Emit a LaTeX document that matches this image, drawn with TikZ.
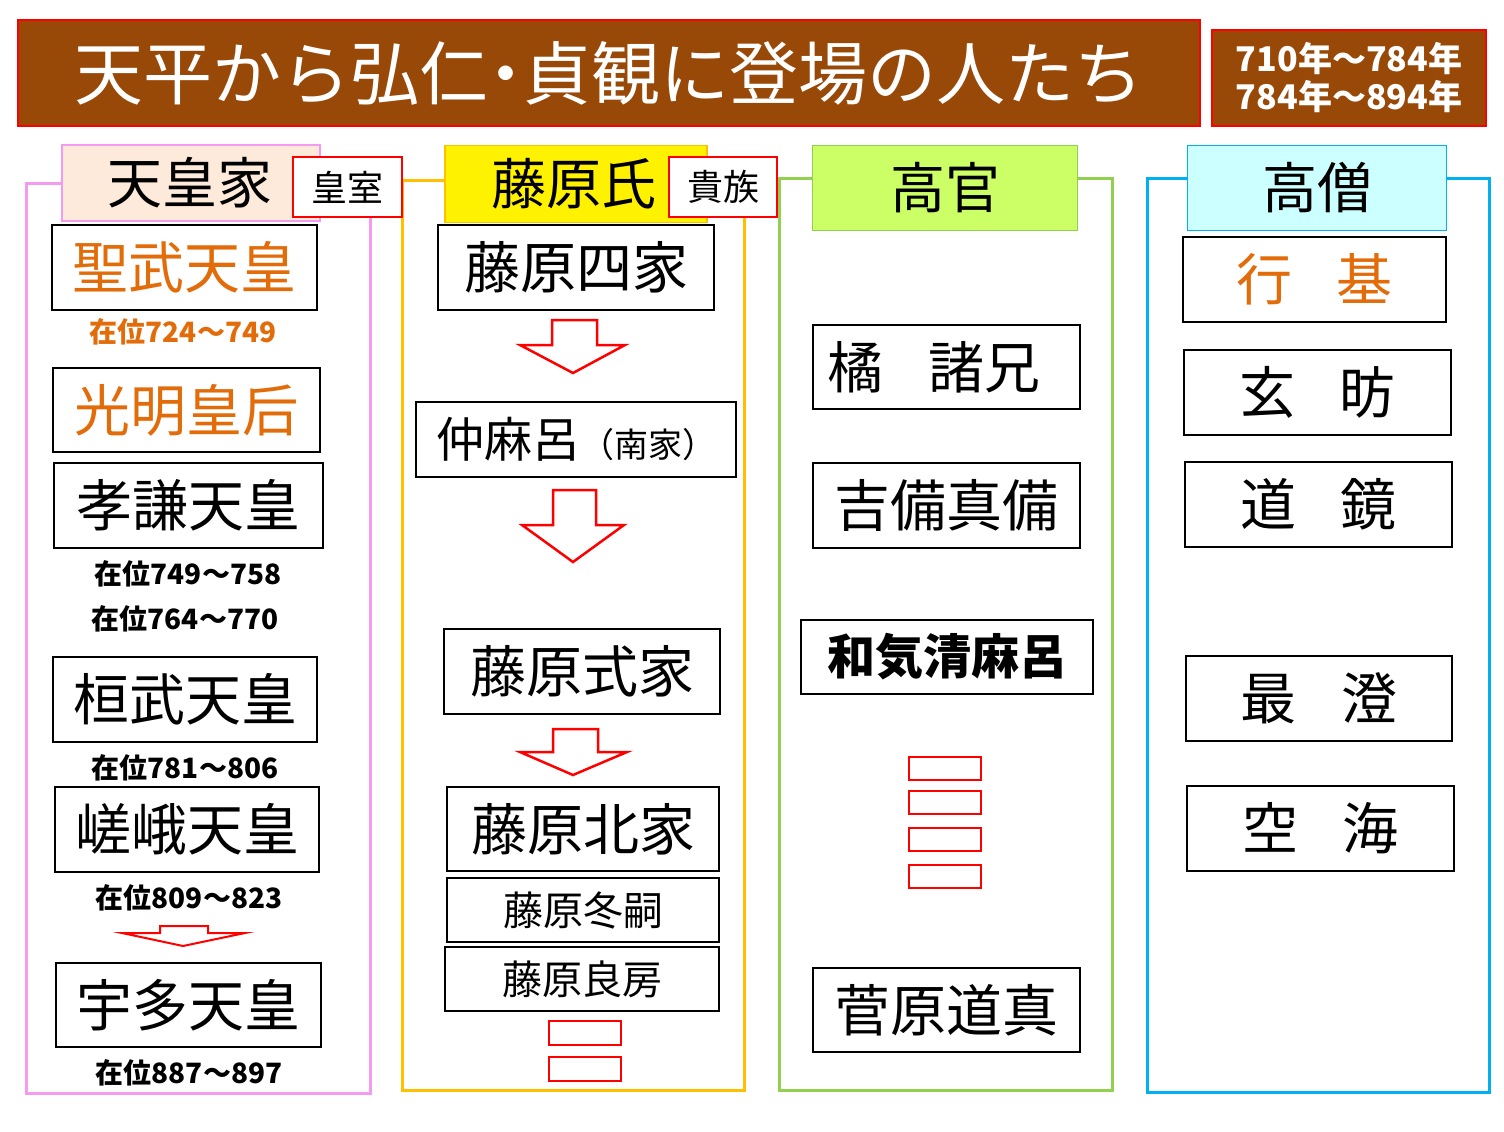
\documentclass[tikz,border=0pt]{standalone}
\usepackage{fontspec}
\setmainfont{Noto Sans CJK JP}
\begin{document}
\begin{tikzpicture}[x=1pt,y=-1pt,
  bx/.style={draw=black,line width=2pt,fill=white},
  rb/.style={draw=red,line width=2pt,fill=white},
  rr/.style={draw=red,line width=2.5pt},
  big/.style={font=\fontsize{56}{56}\selectfont},
  yr/.style={font=\fontsize{28}{28}\selectfont\bfseries},
  ttl/.style={font=\fontsize{55}{55}\selectfont},
  col/.style={line width=3pt}]
\useasboundingbox (0,0) rectangle (1504,1132);
\definecolor{brn}{HTML}{984807}
\definecolor{org}{HTML}{E36C0A}
\definecolor{pnk}{HTML}{F49AF0}
\definecolor{peach}{HTML}{FDEADA}
\definecolor{ylw}{HTML}{FFC000}
\definecolor{grn}{HTML}{92D050}
\definecolor{lgrn}{HTML}{CCFF66}
\definecolor{blu}{HTML}{00B0F0}
\definecolor{lcy}{HTML}{CCFFFF}
% title
\node[draw=red,line width=1.5pt,fill=brn,text=white,minimum width=1182,minimum height=106,font=\fontsize{69}{69}\selectfont,inner sep=0] (title) at (609,73) {天平から弘仁\hspace{-0.25em}・\hspace{-0.25em}貞観に登場の人たち};
\node[draw=red,line width=1.5pt,fill=brn,text=white,minimum width=274,minimum height=96,align=center,font=\fontsize{34}{38}\selectfont\bfseries] (years) at (1349,78) {710年～784年\\784年～894年};
% columns
\draw[col,pnk] (62,183) -- (26,183) -- (26,1093) -- (370,1093) -- (370,217);
\draw[col,ylw] (445,180) -- (402,180) -- (402,1090) -- (744,1090) -- (744,217);
\draw[col,grn] (813,178) -- (779,178) -- (779,1090) -- (1112,1090) -- (1112,178) -- (1078,178);
\draw[col,blu] (1188,178) -- (1147,178) -- (1147,1092) -- (1489,1092) -- (1489,178) -- (1447,178);
% headers
\node[draw=pnk,line width=1.5pt,fill=peach,minimum width=258,minimum height=76,ttl,inner sep=0] (h1) at (191,183) {\hspace*{-2pt}天皇家};
\node[rb,minimum width=109,minimum height=60,font=\fontsize{36}{36}\selectfont,inner sep=0] (s1) at (347,187) {皇室};
\node[draw=ylw,line width=1.5pt,fill=yellow,minimum width=262,minimum height=77,ttl,inner sep=0] (h2) at (576,184) {\hspace*{-4pt}藤原氏};
\node[rb,minimum width=108,minimum height=60,font=\fontsize{36}{36}\selectfont,inner sep=0] (s2) at (723,187) {貴族};
\node[draw=grn,line width=1.5pt,fill=lgrn,minimum width=265,minimum height=85,ttl,inner sep=0] (h3) at (945,188) {高官};
\node[draw=blu,line width=1.5pt,fill=lcy,minimum width=259,minimum height=85,ttl,inner sep=0] (h4) at (1317,188) {高僧};
% column 1
\node[bx,minimum width=265,minimum height=85,big,text=org,inner sep=0] (a1) at (184.5,267.5) {聖武天皇};
\node[yr,text=org] (y1) at (183,332) {在位724～749};
\node[bx,minimum width=267,minimum height=84,big,text=org,inner sep=0] (a2) at (186.5,410) {光明皇后};
\node[bx,minimum width=269,minimum height=85,big,inner sep=0] (a3) at (188.5,505.5) {孝謙天皇};
\node[yr] (y2) at (188,574) {在位749～758};
\node[yr] (y3) at (185,619) {在位764～770};
\node[bx,minimum width=264,minimum height=85,big,inner sep=0] (a4) at (185,699.5) {桓武天皇};
\node[yr] (y4) at (185,768) {在位781～806};
\node[bx,minimum width=264,minimum height=85,big,inner sep=0] (a5) at (187,829.5) {嵯峨天皇};
\node[yr] (y5) at (189,898) {在位809～823};
\node[bx,minimum width=265,minimum height=84,big,inner sep=0] (a6) at (188.5,1005) {宇多天皇};
\node[yr] (y6) at (189,1073) {在位887～897};
\draw[red,line width=2pt,fill=white] (160,926) -- (208,926) -- (208,933) -- (245,933) -- (183,946) -- (122,933) -- (160,933) -- cycle;
% column 2
\node[bx,minimum width=276,minimum height=85,big,inner sep=0] (b1) at (576,267.5) {藤原四家};
\node[bx,minimum width=320,minimum height=75,inner sep=0] (b2) at (576,439.5) {\fontsize{48}{48}\selectfont 仲麻呂\fontsize{34}{34}\selectfont （南家）};
\node[bx,minimum width=276,minimum height=85,big,inner sep=0] (b3) at (582,671.5) {藤原式家};
\node[bx,minimum width=272,minimum height=84,big,inner sep=0] (b4) at (583,829) {藤原北家};
\node[bx,minimum width=272,minimum height=64,font=\fontsize{40}{40}\selectfont,inner sep=0] (b5) at (583,910) {藤原冬嗣};
\node[bx,minimum width=274,minimum height=64,font=\fontsize{40}{40}\selectfont,inner sep=0] (b6) at (582,979) {藤原良房};
\draw[red,line width=2.5pt,fill=white] (552,320) -- (597,320) -- (597,345) -- (625,345) -- (573,373) -- (520,345) -- (552,345) -- cycle;
\draw[red,line width=2.5pt,fill=white] (553,490) -- (596,490) -- (596,525) -- (624,525) -- (573,562) -- (522,525) -- (553,525) -- cycle;
\draw[red,line width=2.5pt,fill=white] (553,729) -- (598,729) -- (598,752) -- (627,752) -- (573,775) -- (520,752) -- (553,752) -- cycle;
\draw[rr] (549,1021) rectangle (621,1045);
\draw[rr] (549,1057) rectangle (621,1081);
% column 3
\node[bx,minimum width=267,minimum height=84,big,inner sep=0] (c1) at (946.5,367) {\hspace*{-25pt}橘\hspace{0.8em}諸兄};
\node[bx,minimum width=267,minimum height=85,big,inner sep=0] (c2) at (946.5,505.5) {吉備真備};
\node[bx,minimum width=292,minimum height=74,font=\fontsize{48}{48}\selectfont\bfseries,inner sep=0] (c3) at (947,657) {和気清麻呂};
\draw[rr] (909,757) rectangle (981,780);
\draw[rr] (909,791) rectangle (981,814);
\draw[rr] (909,828) rectangle (981,851);
\draw[rr] (909,865) rectangle (981,888);
\node[bx,minimum width=267,minimum height=84,big,inner sep=0] (c4) at (946.5,1010) {菅原道真};
% column 4
\node[bx,minimum width=263,minimum height=85,big,text=org,inner sep=0] (d1) at (1314.5,279.5) {行\hspace{0.8em}基};
\node[bx,minimum width=267,minimum height=85,big,inner sep=0] (d2) at (1317.5,392.5) {玄\hspace{0.8em}昉};
\node[bx,minimum width=267,minimum height=85,big,inner sep=0] (d3) at (1318.5,504.5) {道\hspace{0.8em}鏡};
\node[bx,minimum width=266,minimum height=85,big,inner sep=0] (d4) at (1319,698.5) {最\hspace{0.8em}澄};
\node[bx,minimum width=267,minimum height=85,big,inner sep=0] (d5) at (1320.5,828.5) {空\hspace{0.8em}海};
\end{tikzpicture}
\end{document}
